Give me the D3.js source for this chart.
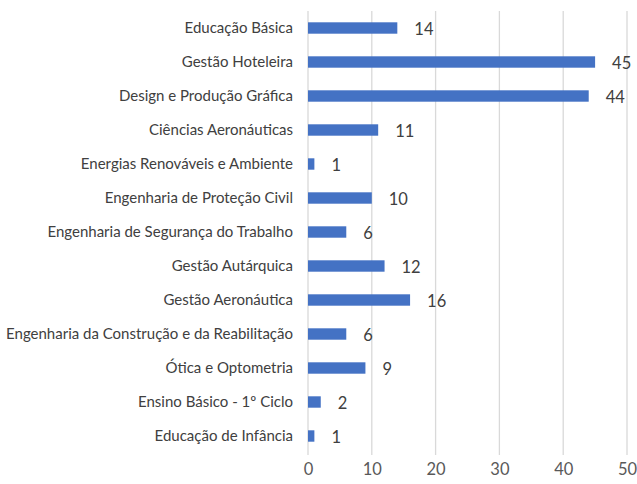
<!DOCTYPE html>
<html>
<head>
<meta charset="utf-8">
<script src="https://cdn.jsdelivr.net/npm/d3@7"></script>
<style>
  body { margin: 0; background: #fff; }
  text { font-family: Lato, "Open Sans", sans-serif; }
</style>
</head>
<body>
<div id="chart"></div>
<script>
const cursos = [
    "Educação Básica",
    "Gestão Hoteleira",
    "Design e Produção Gráfica",
    "Ciências Aeronáuticas",
    "Energias Renováveis e Ambiente",
    "Engenharia de Proteção Civil",
    "Engenharia de Segurança do Trabalho",
    "Gestão Autárquica",
    "Gestão Aeronáutica",
    "Engenharia da Construção e da Reabilitação",
    "Ótica e Optometria",
    "Ensino Básico - 1º Ciclo",
    "Educação de Infância"
]
const valores = [14, 45, 44, 11, 1, 10, 6, 12, 16, 6, 9, 2, 1]
const ticks_x = [0, 10, 20, 30, 40, 50]

const width = 637
const height = 484
const margin = {top: 11, right: 10, bottom: 31, left: 308}

const svg = d3.select("#chart")
    .append("svg")
    .attr("width", width)
    .attr("height", height)

const x = d3.scaleLinear()
    .domain([0, 50])
    .range([margin.left, 627])

const y = d3.scaleBand()
    .domain(cursos)
    .range([margin.top, height - margin.bottom])
    .paddingInner(0.665)
    .paddingOuter(0.3325)

const layer_grid = svg.append("g")
const layer_bars = svg.append("g")
const layer_text = svg.append("g")

// gridlines
layer_grid.selectAll("line")
    .data(ticks_x)
    .enter()
    .append("line")
    .attr("x1", d => x(d))
    .attr("x2", d => x(d))
    .attr("y1", margin.top)
    .attr("y2", height - margin.bottom + 2)
    .attr("stroke", "#d9d9d9")
    .attr("stroke-width", 1.3)

layer_bars.selectAll("rect")
    .data(valores)
    .enter()
    .append("rect")
    .attr("x", x(0))
    .attr("y", (d, i) => y(cursos[i]))
    .attr("width", d => x(d) - x(0))
    .attr("height", y.bandwidth())
    .attr("fill", "#4472c4")

// category labels
layer_text.selectAll("text.cat")
    .data(cursos)
    .enter()
    .append("text")
    .attr("class", "cat")
    .attr("x", margin.left - 15)
    .attr("y", d => y(d) + y.bandwidth() / 2)
    .attr("dy", "0.35em")
    .attr("text-anchor", "end")
    .attr("fill", "#404040")
    .style("font-size", "15px")
    .text(d => d)

// value labels
layer_text.selectAll("text.val")
    .data(valores)
    .enter()
    .append("text")
    .attr("class", "val")
    .attr("x", d => x(d) + 17)
    .attr("y", (d, i) => y(cursos[i]) + y.bandwidth() / 2 + 1.5)
    .attr("dy", "0.35em")
    .attr("fill", "#404040")
    .style("font-size", "16.5px")
    .text(d => d)

// x axis tick labels
const xAxis = d3.axisBottom(x).tickValues(ticks_x).tickSize(0).tickPadding(0)
svg.append("g")
    .attr("transform", `translate(0,${height - margin.bottom + 10})`)
    .call(xAxis)
    .call(g => g.select(".domain").remove())
    .call(g => g.selectAll("text")
        .attr("fill", "#595959")
        .style("font-size", "16.5px")
        .style("font-family", "Lato, 'Open Sans', sans-serif"))
</script>
</body>
</html>
